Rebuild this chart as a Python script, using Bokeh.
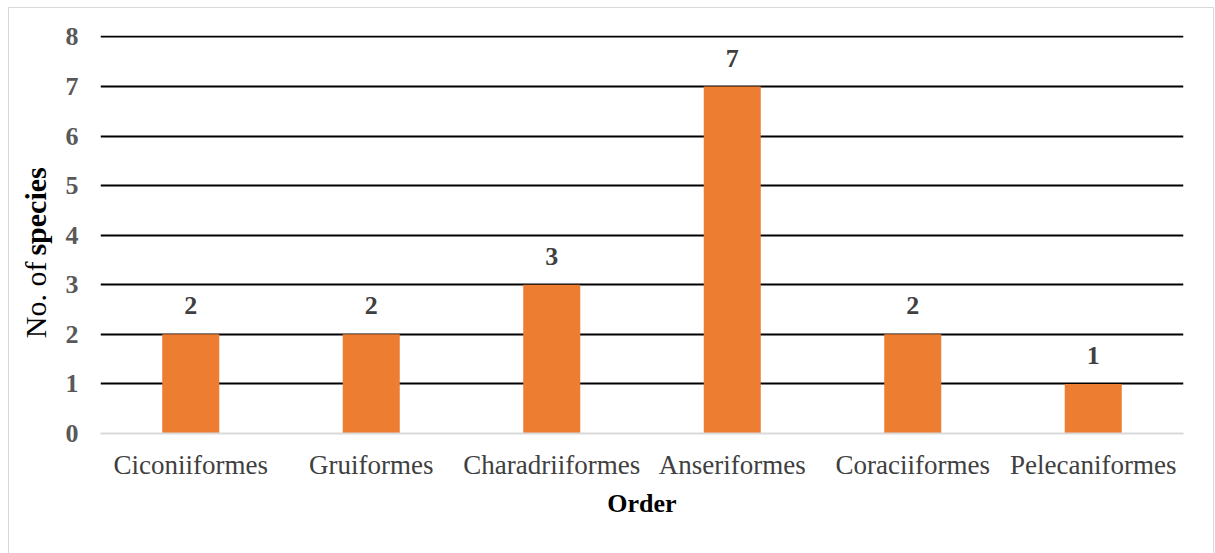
import math
from bokeh.plotting import figure
from bokeh.layouts import row
from bokeh.models import FixedTicker, ColumnDataSource, LabelSet
from bokeh.embed import file_html
from bokeh.resources import INLINE

# Bird orders and number of species recorded in each
orders = ["Ciconiiformes", "Gruiformes", "Charadriiformes", "Anseriformes",
          "Coraciiformes", "Pelecaniformes"]
species_count = [2, 2, 3, 7, 2, 1]
y_ticks = [0, 1, 2, 3, 4, 5, 6, 7, 8]

FONT = "Liberation Serif"

src = ColumnDataSource(dict(order=orders, count=species_count,
                            text=[str(v) for v in species_count]))

p = figure(x_range=orders, y_range=(0, 8.03), width=1154, height=545,
           frame_width=1083, frame_height=398,
           min_border_left=41, min_border_right=30,
           min_border_top=27, min_border_bottom=120,
           output_backend="svg", toolbar_location=None)

p.vbar(x="order", top="count", width=0.316, source=src,
       fill_color="#ED7D31", line_color=None)

p.add_layout(LabelSet(x="order", y="count", text="text", source=src,
                      y_offset=20, text_align="center", text_baseline="bottom",
                      text_font=FONT, text_font_style="bold",
                      text_font_size="26px", text_color="#404040"))

p.outline_line_color = None
p.background_fill_color = "white"
p.border_fill_color = "white"

p.xgrid.grid_line_color = None
p.ygrid.ticker = FixedTicker(ticks=y_ticks[1:])
p.ygrid.grid_line_color = "black"
p.ygrid.grid_line_width = 2

p.yaxis.ticker = FixedTicker(ticks=y_ticks)
p.yaxis.axis_line_color = None
p.yaxis.major_tick_line_color = None
p.yaxis.minor_tick_line_color = None
p.yaxis.major_label_text_font = FONT
p.yaxis.major_label_text_font_style = "bold"
p.yaxis.major_label_text_font_size = "26px"
p.yaxis.major_label_text_color = "#595959"
p.yaxis.major_label_standoff = 16

p.xaxis.axis_line_color = "#D9D9D9"
p.xaxis.axis_line_width = 2
p.xaxis.major_tick_line_color = None
p.xaxis.minor_tick_line_color = None
p.xaxis.major_label_text_font = FONT
p.xaxis.major_label_text_font_size = "27px"
p.xaxis.major_label_text_color = "#404040"
p.xaxis.major_label_standoff = 10
p.xaxis.axis_label = "Order"
p.xaxis.axis_label_text_font = FONT
p.xaxis.axis_label_text_font_style = "bold"
p.xaxis.axis_label_text_font_size = "26px"
p.xaxis.axis_label_text_color = "black"
p.xaxis.axis_label_standoff = 6

# narrow strip holding the y-axis title: "No. of" regular, "species" bold,
# meeting at a common point so the two parts read as one phrase
t = figure(x_range=(0, 1), y_range=p.y_range, width=50, height=545,
           frame_width=50, frame_height=398,
           min_border_left=0, min_border_right=0,
           min_border_top=27, min_border_bottom=120,
           output_backend="svg", toolbar_location=None)
t.axis.visible = False
t.grid.visible = False
t.outline_line_color = None
t.background_fill_color = "white"
t.border_fill_color = "white"
t.text(x=[0.52], y=[3.47], text=["No. of"], angle=math.pi / 2,
       text_align="right", text_baseline="middle", text_font=FONT,
       text_font_size="30px", text_color="black")
t.text(x=[0.52], y=[3.59], text=["species"], angle=math.pi / 2,
       text_align="left", text_baseline="middle", text_font=FONT,
       text_font_style="bold", text_font_size="30px", text_color="black")

# light outer border round the chart (open at the bottom)
layout = row(t, p, styles={"margin-left": "8px", "margin-top": "7px",
                           "border-top": "1px solid #D9D9D9",
                           "border-left": "1px solid #D9D9D9",
                           "border-right": "1px solid #D9D9D9"})

open("out.html", "w").write(file_html(layout, INLINE))
